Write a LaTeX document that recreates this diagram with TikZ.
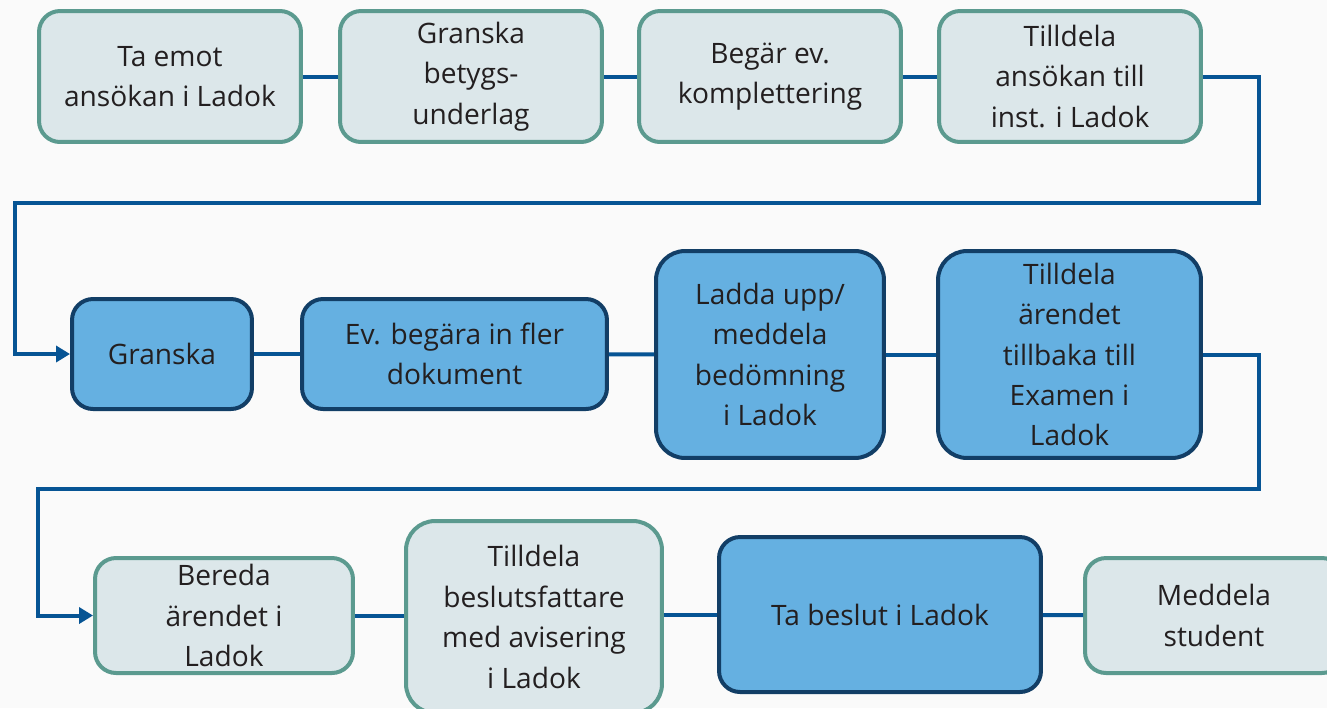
\documentclass[tikz,border=0pt]{standalone}
\usepackage{fontspec}
\setmainfont{Open Sans}
\usetikzlibrary{arrows.meta}
\definecolor{pagebg}{RGB}{250,250,250}
\definecolor{ink}{RGB}{35,31,32}
\definecolor{tealedge}{RGB}{91,154,143}
\definecolor{lightfill}{RGB}{220,231,234}
\definecolor{darkedge}{RGB}{18,62,102}
\definecolor{darkfill}{RGB}{101,176,225}
\definecolor{flowblue}{RGB}{6,84,148}

\begin{document}
\begin{tikzpicture}[x=0.02cm,y=-0.02cm,
  every node/.style={inner sep=0pt, align=center, text=ink,
    font=\fontsize{16}{23}\selectfont},
  lightbox/.style={draw=tealedge, fill=lightfill, line width=0.08cm, rounded corners=0.42cm},
  darkbox/.style={draw=darkedge, fill=darkfill, line width=0.08cm, rounded corners=0.42cm},
  bigbox/.style={rounded corners=0.58cm},
  flow/.style={draw=flowblue, line width=0.08cm},
  tip/.style={-{Triangle[length=0.28cm,width=0.32cm]}}]
\fill [pagebg] (0,0) rectangle (1327,708);
\useasboundingbox (0,0) rectangle (1327,708);
% row 1
\node [lightbox, minimum width=5.24cm, minimum height=2.62cm] (emot) at (170,76.5) {Ta emot\\ansökan i Ladok};
\node [lightbox, minimum width=5.24cm, minimum height=2.62cm] (betyg) at (471,76.5) {Granska\\betygs-\\underlag};
\node [lightbox, minimum width=5.24cm, minimum height=2.62cm] (kompl) at (770,76.5) {Begär ev.\\komplettering};
\node [lightbox, minimum width=5.24cm, minimum height=2.62cm] (inst) at (1070,76.5) {Tilldela\\ansökan till\\inst. i Ladok};
% row 2
\node [darkbox, minimum width=3.60cm, minimum height=2.20cm] (granska) at (162,354) {Granska};
\node [darkbox, minimum width=6.10cm, minimum height=2.20cm] (fler) at (454.5,354) {Ev. begära in fler\\dokument};
\node [darkbox, bigbox, minimum width=4.56cm, minimum height=4.14cm] (bedom) at (770,354.5) {Ladda upp/\\meddela\\bedömning\\i Ladok};
\node [darkbox, bigbox, minimum width=5.26cm, minimum height=4.14cm] (examen) at (1069.5,354.5) {Tilldela\\ärendet\\tillbaka till\\Examen i\\Ladok};
% row 3
\node [lightbox, minimum width=5.16cm, minimum height=2.30cm] (bereda) at (224,615.5) {Bereda\\ärendet i\\Ladok};
\node [lightbox, bigbox, minimum width=5.12cm, minimum height=3.84cm] (avis) at (534,617) {Tilldela\\beslutsfattare\\med avisering\\i Ladok};
\node [darkbox, minimum width=6.44cm, minimum height=3.10cm] (beslut) at (880,614.5) {Ta beslut i Ladok};
\node [lightbox, minimum width=5.16cm, minimum height=2.30cm] (student) at (1214,615.5) {Meddela\\student};
% turns
\coordinate (r1) at (1259,203);
\coordinate (l1) at (15,203);
\coordinate (r2) at (1259,489);
\coordinate (l2) at (38,489);
\draw [flow] (emot) -- (betyg);
\draw [flow] (betyg) -- (kompl);
\draw [flow] (kompl) -- (inst);
\draw [flow, tip] (inst.east) -| (r1) -- (l1) |- (granska.west);
\draw [flow] (granska) -- (fler);
\draw [flow] (fler) -- (bedom);
\draw [flow] (bedom) -- (examen);
\draw [flow, tip] (examen.east) -| (r2) -- (l2) |- (bereda.west);
\draw [flow] (bereda.east) -- (bereda.east -| avis.west);
\draw [flow] (avis.east |- beslut) -- (beslut.west);
\draw [flow] (beslut) -- (student);
\end{tikzpicture}
\end{document}
